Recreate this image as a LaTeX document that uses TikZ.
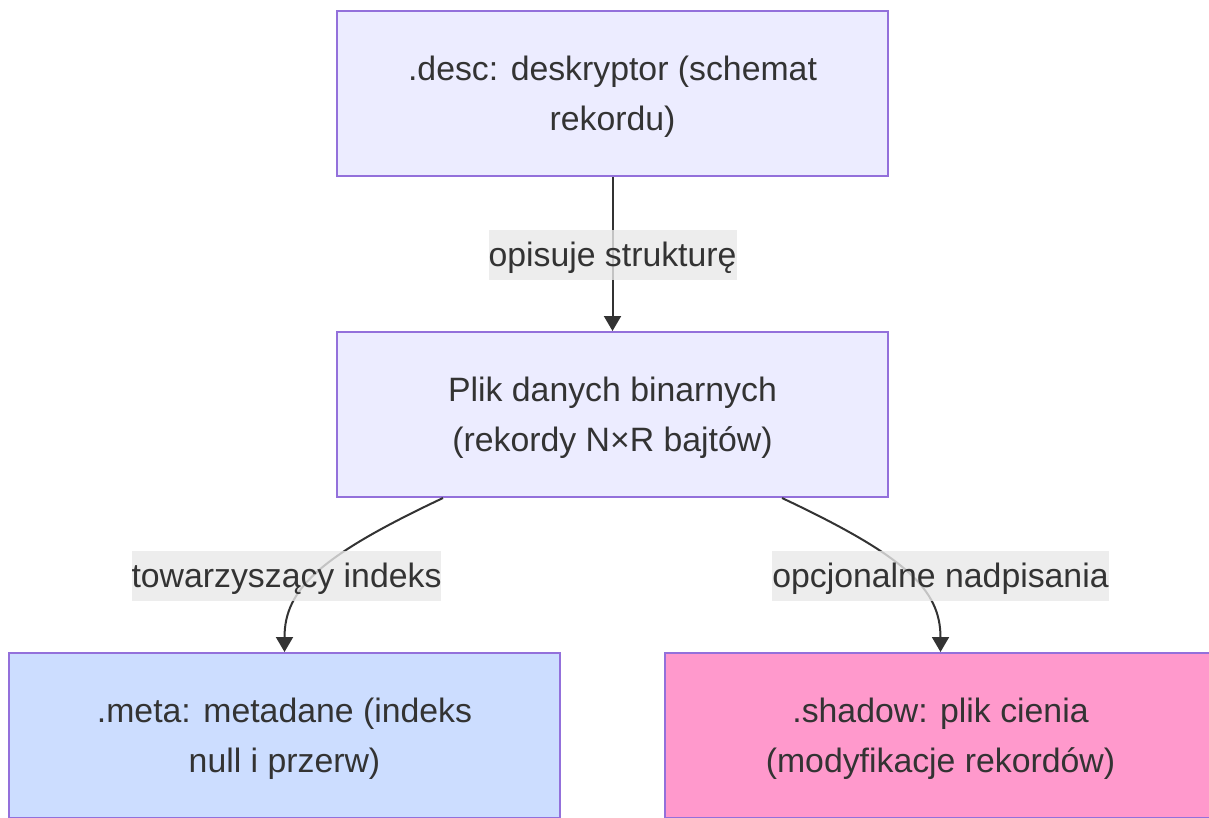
\documentclass[tikz,border=0pt]{standalone}
\usepackage{fontspec}
\setmainfont{Liberation Sans}
\usetikzlibrary{arrows.meta,calc}

\definecolor{nodefill}{HTML}{ECECFF}
\definecolor{nodeline}{HTML}{9370DB}
\definecolor{metafill}{HTML}{CCDDFF}
\definecolor{shadowfill}{HTML}{FF99CC}
\definecolor{inkgray}{HTML}{333333}
\definecolor{labelbg}{HTML}{E8E8E8}

% invisible strut that gives the first text line a little extra headroom
\newcommand{\headroom}{\rule{0pt}{31pt}}

\tikzset{
  box/.style={rectangle, draw=nodeline, fill=nodefill, line width=2pt,
    minimum width=551pt, minimum height=165pt, inner sep=0pt,
    align=center, text=inkgray},
  link/.style={draw=inkgray, line width=2pt,
    -{Triangle[length=15pt,width=17pt]}},
  linklabel/.style={fill=labelbg, fill opacity=0.8, text opacity=1,
    text=inkgray, inner sep=0pt, text height=36pt, text depth=14pt}
}

\begin{document}
\begin{tikzpicture}[x=1pt, y=-1pt]
  \fontsize{33.8pt}{50.5pt}\selectfont
  \useasboundingbox (0,0) rectangle (1209,817);
  \clip (0,0) rectangle (1209,817);

  % boxes
  \node[box] (desc) at (612.5,93.5) {\headroom.desc: deskryptor (schemat\\rekordu)};
  \node[box] (data) at (612.5,414.5) {\headroom Plik danych binarnych\\ (rekordy N×R bajtów)};
  \node[box, fill=metafill] (meta) at (284.5,735.5) {\headroom.meta: metadane (indeks\\null i przerw)};
  \node[box, fill=shadowfill] (shadow) at (940.5,735.5) {\headroom.shadow: plik cienia\\(modyfikacje rekordów)};

  % connectors
  \draw[link] (desc.south) -- (data.north);
  \draw[link] ($(data.south)+(-169.5,0)$) .. controls +(-123,58) and +(0,-63) .. (meta.north);
  \draw[link] ($(data.south)+(169.5,0)$) .. controls +(123,58) and +(0,-63) .. (shadow.north);

  % connector labels
  \node[linklabel] (l1) at (612.5,255) {opisuje strukturę};
  \node[linklabel] (l2) at (286.5,576) {towarzyszący indeks};
  \node[linklabel] (l3) at (940.5,576) {opcjonalne nadpisania};
\end{tikzpicture}
\end{document}
